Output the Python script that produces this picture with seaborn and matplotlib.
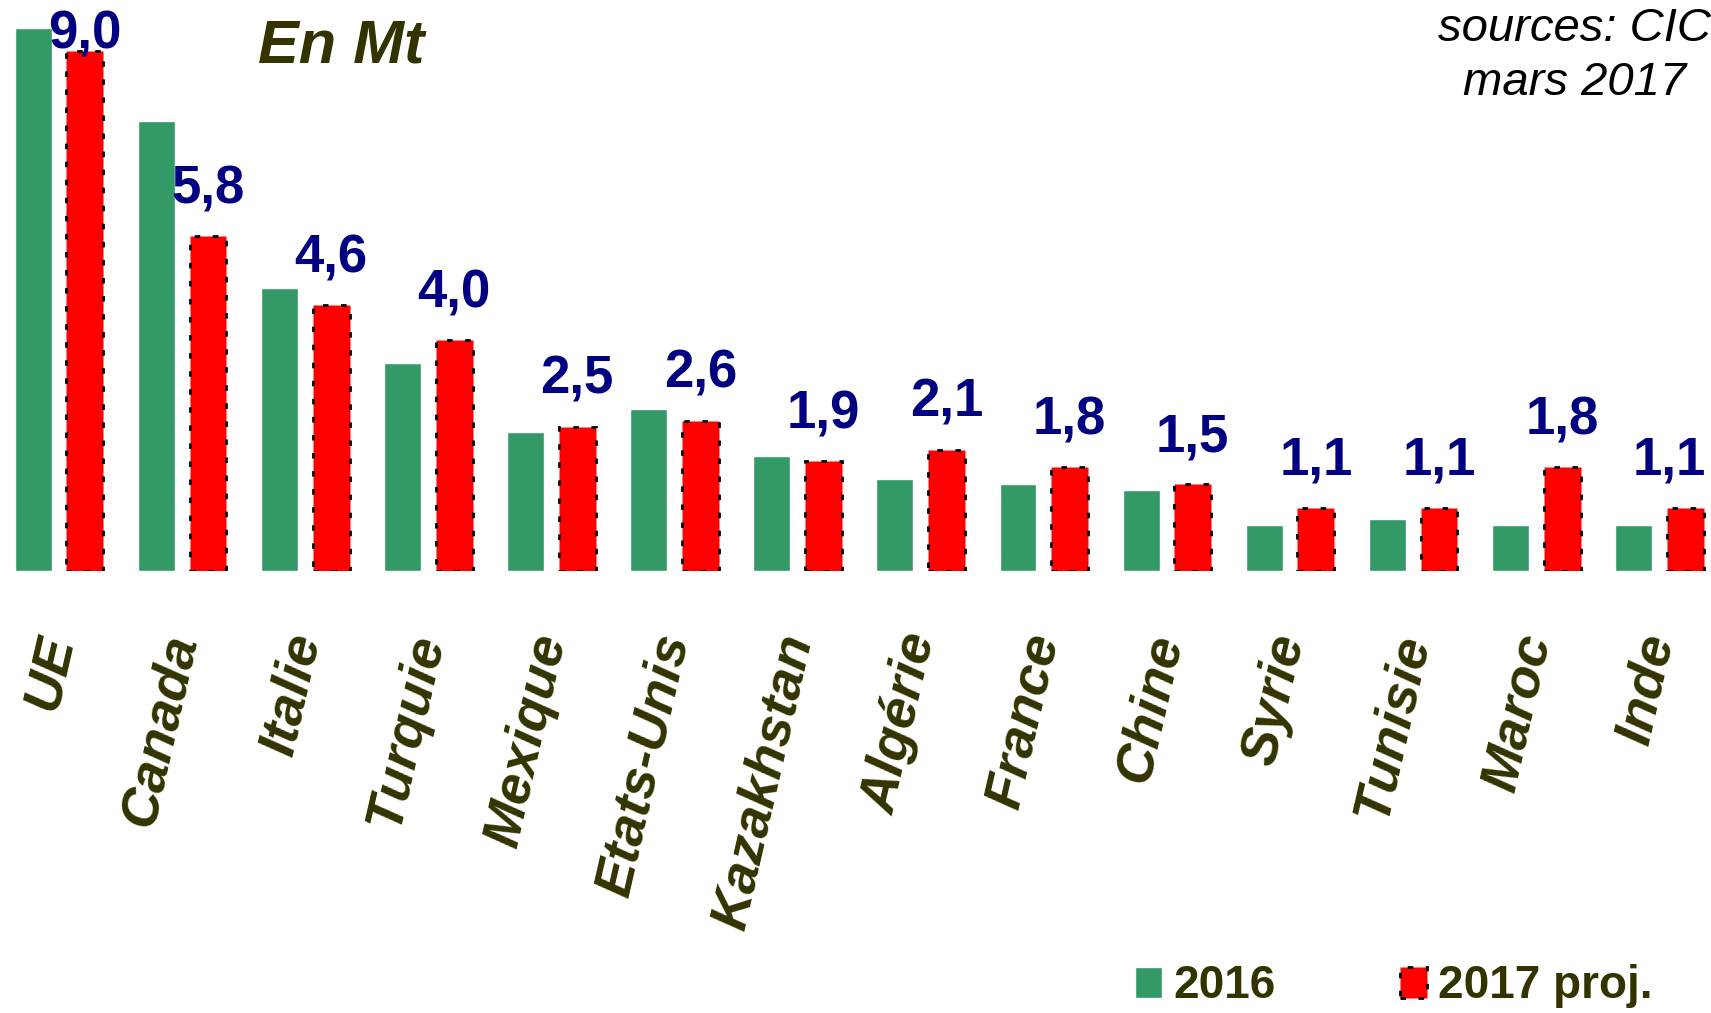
import pandas as pd
import seaborn as sns
import matplotlib.pyplot as plt

pays = ["UE", "Canada", "Italie", "Turquie", "Mexique", "Etats-Unis", "Kazakhstan",
        "Algérie", "France", "Chine", "Syrie", "Tunisie", "Maroc", "Inde"]
val_2016 = [9.4, 7.8, 4.9, 3.6, 2.4, 2.8, 2.0, 1.6, 1.5, 1.4, 0.8, 0.9, 0.8, 0.8]
val_2017 = [9.0, 5.8, 4.6, 4.0, 2.5, 2.6, 1.9, 2.1, 1.8, 1.5, 1.1, 1.1, 1.8, 1.1]
series = ["2016", "2017 proj."]
couleurs = ["#339966", "#FF0000"]

df = pd.DataFrame({
    "pays": pays * 2,
    "val": val_2016 + val_2017,
    "annee": [series[0]] * len(pays) + [series[1]] * len(pays),
})

sns.set_style("white")
plt.rcParams["font.family"] = ["Liberation Sans", "DejaVu Sans"]

olive = "#333300"
navy = "#000080"

fig = plt.figure(figsize=(17.11, 10.13), dpi=100)
ax = fig.add_axes([0, 0.4363, 1, 0.5637])

sns.barplot(data=df, x="pays", y="val", hue="annee", palette=couleurs,
            width=0.84, gap=0.286, saturation=1, legend=False, ax=ax)

# red bars get the dotted black outline
for p in ax.containers[1]:
    p.set_edgecolor("black")
    p.set_linewidth(2)
    p.set_linestyle((0, (2.0, 4.5)))

ax.set_xlim(-0.48, 13.42)
ax.set_ylim(0, 9.89)
ax.set_xlabel("")
ax.set_ylabel("")
ax.set_yticks([])
sns.despine(ax=ax, left=True, bottom=True)
ax.tick_params(axis="x", length=0, pad=46)
ax.set_xticks(range(len(pays)))
ax.set_xticklabels(pays, rotation=77, ha="right", va="center", rotation_mode="anchor",
                   fontsize=39, fontweight="bold", fontstyle="italic", color=olive)

# value labels over the 2017 bars (last one pushed left so it stays inside)
for i, v in enumerate(val_2017):
    bar = ax.containers[1][i]
    if i == len(val_2017) - 1:
        x, ha = bar.get_x() + bar.get_width() + 0.02, "right"
    else:
        x, ha = bar.get_x() + bar.get_width() / 2, "center"
    ax.text(x, min(v + 0.57, 9.05), f"{v:.1f}".replace(".", ","), ha=ha,
            va="baseline", fontsize=38, fontweight="bold", color=navy)

fig.text(341 / 1711, 1 - 47 / 1013, "En Mt", ha="center", va="center", fontsize=44,
         fontweight="bold", fontstyle="italic", color=olive)
fig.text(1575 / 1711, 1 - 56 / 1013, "sources: CIC\nmars 2017", ha="center", va="center",
         fontsize=34, fontstyle="italic", color="black", linespacing=1.3)

handles = [ax.containers[0][0], ax.containers[1][0]]
leg = fig.legend(handles, series, loc="lower left", bbox_to_anchor=(1130 / 1711, 0.0),
                 ncol=2, frameon=False, fontsize=33, handlelength=0.6, handleheight=0.65,
                 handletextpad=0.25, columnspacing=2.7, borderaxespad=0, borderpad=0.1)
for t in leg.get_texts():
    t.set_fontweight("bold")
    t.set_color(olive)

fig.savefig("out.png", dpi=100)
